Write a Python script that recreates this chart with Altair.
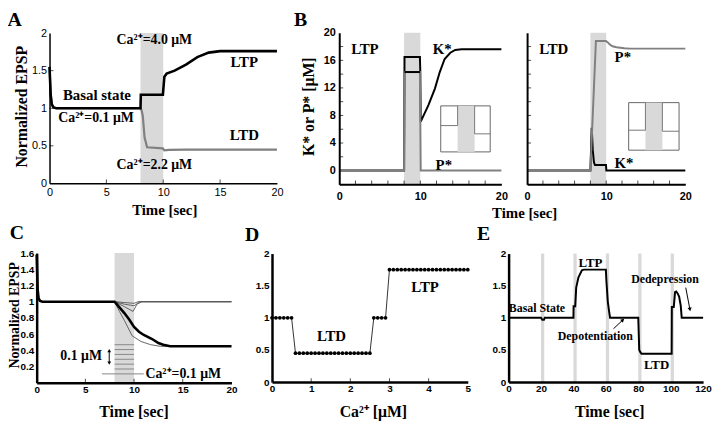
import altair as alt
import pandas as pd

# ---------------- data ----------------
# Panel A : normalized EPSP vs time
A_t_ltp = [0, 0.1, 0.2, 0.35, 0.6, 8.0, 8.03, 9.97, 10.1, 10.3, 11.0, 12.0, 13.0, 14.0, 15.0, 20.0]
A_v_ltp = [1.55, 1.18, 1.05, 1.01, 1.0, 1.0, 1.18, 1.18, 1.42, 1.46, 1.5, 1.58, 1.68, 1.74, 1.76, 1.76]
A_t_ltd = [0, 0.1, 0.2, 0.35, 0.6, 8.0, 8.1, 8.2, 8.36, 8.58, 9.96, 10.1, 10.5, 12.0, 20.0]
A_v_ltd = [1.55, 1.18, 1.05, 1.01, 1.0, 1.0, 0.97, 0.9, 0.61, 0.48, 0.465, 0.44, 0.445, 0.45, 0.45]
A_stim = [8, 10]
A_labels = ["Ca²⁺=4.0 μM", "Ca²⁺=0.1 μM", "Ca²⁺=2.2 μM"]
A_lab_x = [9.22, 4.09, 9.22]
A_lab_y = [1.91, 0.87, 0.24]
A_big = ["Basal state", "LTP", "LTD"]
A_big_x = [4.17, 17.13, 17.13]
A_big_y = [1.18, 1.61, 0.64]

# Panel B : K* and P* [uM]
BL_t_k = [0, 8.0, 8.05, 9.95, 10.0, 10.05, 11.0, 11.8, 12.4, 13.0, 13.7, 14.3, 15.1, 20]
BL_v_k = [0, 0, 16.5, 16.5, 14.3, 7.1, 9.5, 11.9, 14.3, 16.2, 17.1, 17.5, 17.6, 17.6]
BL_t_p = [0, 8.0, 8.05, 9.95, 10.05, 20]
BL_v_p = [0, 0, 14.3, 14.3, 0, 0]
BL_k_edge = [8.05, 9.95, 14.3]
BR_t_p = [0, 8.0, 8.7, 9.96, 10.2, 10.46, 10.8, 11.3, 12.3, 13.0, 20]
BR_v_p = [0, 0, 18.8, 18.8, 18.6, 18.3, 18.05, 17.9, 17.75, 17.7, 17.7]
BR_t_k = [0, 8.0, 8.17, 8.3, 8.45, 8.58, 9.97, 10.02, 20]
BR_v_k = [0, 0, 6.2, 3.0, 1.2, 0.8, 0.8, 0, 0]
B_stim = [8, 10]
# inset schematics (box, shaded band, left step, right step)
BL_box = [12.52, 18.62, 2.71, 9.39]
BL_band = [14.6, 16.7]
BL_left_x = [12.52, 14.6, 14.6]
BL_left_y = [6.53, 6.53, 9.39]
BL_right_x = [16.7, 16.7, 18.62]
BL_right_y = [9.39, 5.33, 5.33]
BR_box = [12.84, 19.21, 2.96, 9.86]
BR_band = [14.96, 17.1]
BR_left_x = [12.84, 14.96, 14.96]
BR_left_y = [5.86, 5.86, 9.86]
BR_right_x = [17.1, 17.1, 19.21]
BR_right_y = [9.86, 5.71, 5.71]
BL_lab = ["LTP", "K*", "P*"]
BL_lab_x = [3.17, 12.7, 12.9]
BL_lab_y = [17.65, 17.65, 0.86]
BR_lab = ["LTD", "P*", "K*"]
BR_lab_x = [3.37, 12.1, 12.25]
BR_lab_y = [17.65, 16.5, 1.15]

# Panel C : EPSP for several Ca levels
C_t_main = [0, 0.1, 0.2, 0.35, 0.6, 8.0, 8.5, 9.0, 9.5, 10.0, 10.5, 11.0, 11.85, 12.5, 13.0, 13.7, 20]
C_v_main = [1.58, 1.15, 1.04, 1.01, 1.0, 1.0, 0.93, 0.86, 0.78, 0.69, 0.63, 0.59, 0.54, 0.49, 0.47, 0.45, 0.45]
C_thin_t = [[8, 8.5, 9.0, 9.8, 10.7, 11.7, 12.7, 20],
            [8, 9, 9.9, 10.3, 10.8, 20],
            [8, 9, 10, 10.6, 20],
            [8, 9, 10, 10.4, 20]]
C_thin_v = [[1.0, 0.88, 0.77, 0.58, 0.51, 0.47, 0.45, 0.45],
            [1.0, 0.94, 0.88, 0.97, 1.0, 1.0],
            [1.0, 0.97, 0.95, 1.0, 1.0],
            [1.0, 0.99, 0.98, 1.0, 1.0]]
C_levels = [0.17, 0.23, 0.29, 0.35, 0.41, 0.47]
C_base = [6.7, 11.0, 0.11]
C_arrow = [7.45, 0.25, 0.39]

# Panel D : final EPSP vs Ca
D_ca = [0.0, 0.1, 0.2, 0.3, 0.4, 0.5, 0.6, 0.7, 0.8, 0.9, 1.0, 1.1, 1.2, 1.3, 1.4, 1.5, 1.6,
        1.7, 1.8, 1.9, 2.0, 2.1, 2.2, 2.3, 2.4, 2.5, 2.6, 2.7, 2.8, 2.9, 3.0, 3.1, 3.2, 3.3,
        3.4, 3.5, 3.6, 3.7, 3.8, 3.9, 4.0, 4.1, 4.2, 4.3, 4.4, 4.5, 4.6, 4.7, 4.8, 4.9, 5.0]
D_v = [1.0, 1.0, 1.0, 1.0, 1.0, 1.0,
       0.45, 0.45, 0.45, 0.45, 0.45, 0.45, 0.45, 0.45, 0.45, 0.45,
       0.45, 0.45, 0.45, 0.45, 0.45, 0.45, 0.45, 0.45, 0.45, 0.45,
       1.0, 1.0, 1.0, 1.0,
       1.75, 1.75, 1.75, 1.75, 1.75, 1.75, 1.75, 1.75, 1.75, 1.75, 1.75,
       1.75, 1.75, 1.75, 1.75, 1.75, 1.75, 1.75, 1.75, 1.75, 1.75]

# Panel E : protocol sequence
E_t = [0, 20.0, 20.8, 21.8, 22.3, 40.0, 40.1, 41.1, 41.7, 43.1, 45.2, 46.5, 60.0, 60.4, 61.2,
       62.0, 62.6, 80.0, 80.3, 80.6, 81.2, 82.0, 100.6, 100.7, 101.9, 102.7, 103.4, 104.3,
       105.2, 106.2, 106.8, 120]
E_v = [1.0, 1.0, 0.97, 0.97, 1.0, 1.0, 1.18, 1.18, 1.47, 1.63, 1.74, 1.75, 1.75, 1.55, 1.25,
       1.1, 1.0, 1.0, 0.75, 0.5, 0.47, 0.44, 0.44, 1.17, 1.17, 1.4, 1.41, 1.38, 1.33, 1.19,
       1.0, 1.0]
E_bar_start = [20, 40, 60, 80, 100]
E_bar_end = [22, 42, 62, 82, 102]
E_lab = ["Basal State", "Dedepression", "Depotentiation"]
E_lab_x = [17.5, 96.5, 53.5]
E_lab_y = [1.15, 1.6, 0.72]
E_lab2 = ["LTP", "LTD"]
E_lab2_x = [50.5, 91.3]
E_lab2_y = [1.86, 0.26]
E_arrow_dedep = [109.3, 1.47, 111.8, 1.14]
E_arrow_depot = [64.7, 0.83, 70.2, 0.96]

# ---------------- helpers ----------------
W, H = 712, 415
SERIF = "Liberation Serif"
SANS = "Liberation Sans"
SHADE = "#d9d9d9"
GREY = "#808080"


class Panel:
    def __init__(self, xdom, xr, ydom, yr, xa, ya):
        self.X = alt.Scale(domain=xdom, range=xr, nice=False, zero=False)
        self.Y = alt.Scale(domain=ydom, range=yr, nice=False, zero=False)
        self.XA = xa
        self.YA = ya

    def x(self):
        return alt.X("x:Q", scale=self.X, axis=self.XA)

    def y(self):
        return alt.Y("y:Q", scale=self.Y, axis=self.YA)


def xaxis(pos, values, dw, lsize, lbold, lpad, title=None, tx=0, ty=0, tsize=16):
    kw = dict(orient="bottom", offset=pos - H, values=values, format="~r", ticks=False,
              grid=False, domainColor="black", domainWidth=dw, labelFont=SANS,
              labelFontSize=lsize, labelFontWeight="bold" if lbold else "normal",
              labelColor="black", labelPadding=lpad, labelFlush=False, labelOverlap=False,
              zindex=1)
    if title:
        kw.update(title=title, titleFont=SERIF, titleFontSize=tsize, titleFontWeight="bold",
                  titleColor="black", titleX=tx, titleY=ty, titleAlign="center",
                  titleBaseline="middle", titleAngle=0)
    else:
        kw["title"] = None
    return alt.Axis(**kw)


def yaxis(pos, values, dw, lsize, lbold, lpad, title=None, tx=0, ty=0, labels=True, tsize=16):
    kw = dict(orient="left", offset=-pos, values=values, format="~r", ticks=False,
              grid=False, domainColor="black", domainWidth=dw, labels=labels, labelFont=SANS,
              labelFontSize=lsize, labelFontWeight="bold" if lbold else "normal",
              labelColor="black", labelPadding=lpad, labelFlush=False, labelOverlap=False,
              zindex=1)
    if title:
        kw.update(title=title, titleFont=SERIF, titleFontSize=tsize, titleFontWeight="bold",
                  titleColor="black", titleX=tx, titleY=ty, titleAlign="center",
                  titleBaseline="middle", titleAngle=270)
    else:
        kw["title"] = None
    return alt.Axis(**kw)


def line(xs, ys, p, color, width):
    d = pd.DataFrame({"x": xs, "y": ys})
    d["i"] = range(len(d))
    return alt.Chart(d).mark_line(color=color, strokeWidth=width).encode(
        x=p.x(), y=p.y(), order="i:Q")


def multiline(list_x, list_y, p, color, width):
    rows = []
    for s, (xs, ys) in enumerate(zip(list_x, list_y)):
        for i, (a, b) in enumerate(zip(xs, ys)):
            rows.append({"x": a, "y": b, "s": s, "i": i})
    d = pd.DataFrame(rows)
    return alt.Chart(d).mark_line(color=color, strokeWidth=width).encode(
        x=p.x(), y=p.y(), detail="s:N", order="i:Q")


def rects(x1, x2, y1, y2, p, fill, stroke=None, sw=1):
    d = pd.DataFrame({"x": x1, "x2": x2, "y": y1, "y2": y2})
    if stroke:
        m = alt.Chart(d).mark_rect(fill=fill, stroke=stroke, strokeWidth=sw)
    else:
        m = alt.Chart(d).mark_rect(fill=fill)
    return m.encode(x=p.x(), x2="x2:Q", y=p.y(), y2="y2:Q")


def texts(xs, ys, labels, p, size, align="center"):
    d = pd.DataFrame({"x": xs, "y": ys, "t": labels})
    return alt.Chart(d).mark_text(font=SERIF, fontSize=size, fontWeight="bold", align=align,
                                  baseline="middle", color="black").encode(
        x=p.x(), y=p.y(), text="t:N")


def xticks(vals, at, p, length=4):
    d = pd.DataFrame({"x": vals, "y": [at] * len(vals)})
    return alt.Chart(d).mark_tick(orient="vertical", size=length, thickness=1,
                                  yOffset=-length / 2, color="black").encode(x=p.x(), y=p.y())


def yticks(vals, at, p, length=4):
    d = pd.DataFrame({"x": [at] * len(vals), "y": vals})
    return alt.Chart(d).mark_tick(orient="horizontal", size=length, thickness=1,
                                  xOffset=length / 2, color="black").encode(x=p.x(), y=p.y())


def segs(x1, y1, x2, y2, p, color="black", width=1):
    d = pd.DataFrame({"x": x1, "y": y1, "x2": x2, "y2": y2})
    return alt.Chart(d).mark_rule(color=color, strokeWidth=width).encode(
        x=p.x(), y=p.y(), x2="x2:Q", y2="y2:Q")


def head(x, y, p, angle, size=22):
    d = pd.DataFrame({"x": [x], "y": [y]})
    return alt.Chart(d).mark_point(shape="triangle", filled=True, color="black", size=size,
                                   angle=angle, opacity=1).encode(x=p.x(), y=p.y())


# ---------------- panel A ----------------
pA = Panel([0, 20], [42, 272], [0, 2], [175, 23],
           xaxis(175, [0, 5, 10, 15, 20], 1.5, 11, False, 3, "Time [sec]", 158, 26, tsize=15),
           yaxis(42, [0, 0.5, 1, 1.5, 2], 1.5, 11, False, 3, "Normalized EPSP", -28.5, 97))
panelA = alt.layer(
    rects([A_stim[0]], [A_stim[1]], [0], [2], pA, SHADE),
    line(A_t_ltd, A_v_ltd, pA, GREY, 2.2),
    line(A_t_ltp, A_v_ltp, pA, "black", 2.6),
    xticks([5, 10, 15], 0, pA),
    yticks([0.5, 1, 1.5], 0, pA),
    texts(A_lab_x, A_lab_y, A_labels, pA, 14),
    texts(A_big_x, A_big_y, A_big, pA, 15),
    texts([-3.07], [2.17], ["A"], pA, 20),
)

# ---------------- panel B ----------------
b_even = [2, 4, 6, 8, 10, 12, 14, 16, 18]
pBL = Panel([0, 20], [335, 499], [-2, 20], [176, 22.7],
            xaxis(176, [0, 10, 20], 2, 11, True, 6),
            yaxis(335, [0, 4, 8, 12, 16, 20], 2, 11, True, 4, "K* or P* [μM]", -31.5, 97))
pBR = Panel([0, 20], [525, 685], [-2, 20], [176, 22.7],
            xaxis(176, [0, 10, 20], 2, 11, True, 6, "Time [sec]", 522, 29, tsize=15),
            yaxis(525, [0], 2, 11, True, 4, labels=False))


def inset(box, band, lx, ly, rx, ry, p):
    return [
        rects([box[0]], [box[1]], [box[2]], [box[3]], p, "white", "#666666", 1),
        rects([band[0]], [band[1]], [box[2]], [box[3]], p, SHADE),
        line(lx, ly, p, "#777777", 1),
        line(rx, ry, p, "#777777", 1),
    ]


panelBL = alt.layer(
    rects([B_stim[0]], [B_stim[1]], [-2], [20], pBL, SHADE),
    line(BL_t_k, BL_v_k, pBL, "black", 2),
    line(BL_t_p, BL_v_p, pBL, GREY, 2),
    segs([BL_k_edge[0]], [BL_k_edge[2]], [BL_k_edge[1]], [BL_k_edge[2]], pBL, "black", 2),
    *inset(BL_box, BL_band, BL_left_x, BL_left_y, BL_right_x, BL_right_y, pBL),
    xticks(b_even, -2, pBL),
    yticks(b_even, 0, pBL),
    texts(BL_lab_x, BL_lab_y, BL_lab, pBL, 15),
    texts([-4.76], [21.9], ["B"], pBL, 20),
)

panelBR = alt.layer(
    rects([B_stim[0]], [B_stim[1]], [-2], [20], pBR, SHADE),
    line(BR_t_k, BR_v_k, pBR, "black", 2),
    line(BR_t_p, BR_v_p, pBR, GREY, 2),
    *inset(BR_box, BR_band, BR_left_x, BR_left_y, BR_right_x, BR_right_y, pBR),
    xticks(b_even, -2, pBR),
    yticks(b_even, 0, pBR),
    texts(BR_lab_x, BR_lab_y, BR_lab, pBR, 15),
)

# ---------------- panel C ----------------
pC = Panel([0, 20], [29, 226], [0, 1.6], [376.7, 245.5],
           xaxis(376.7, [0, 5, 10, 15, 20], 2.5, 10, True, 2, "Time [sec]", 127, 29),
           yaxis(29, [0.2, 0.4, 0.6, 0.8, 1, 1.2, 1.4, 1.6], 2.5, 10, True, 3,
                 "Normalized EPSP", -22, 308, tsize=14))
panelC = alt.layer(
    rects([8], [10], [0], [1.6], pC, SHADE),
    segs([8] * len(C_levels), C_levels, [10] * len(C_levels), C_levels, pC, "#888888", 1),
    segs([C_base[0]], [C_base[2]], [C_base[1]], [C_base[2]], pC, "#888888", 1),
    segs([C_arrow[0]], [C_arrow[1]], [C_arrow[0]], [C_arrow[2]], pC, "black", 1),
    head(C_arrow[0], C_arrow[2], pC, 0, 14),
    head(C_arrow[0], C_arrow[1], pC, 180, 14),
    multiline(C_thin_t, C_thin_v, pC, "#555555", 0.9),
    line(C_t_main, C_v_main, pC, "black", 2.6),
    xticks([5, 10, 15], 0, pC),
    texts([4.57], [0.33], ["0.1 μM"], pC, 14),
    texts([11.17], [0.11], ["Ca²⁺=0.1 μM"], pC, 14, align="left"),
    texts([-2.03], [1.85], ["C"], pC, 20),
)

# ---------------- panel D ----------------
pD = Panel([0, 5], [267, 465], [0, 2], [376, 246],
           xaxis(376, [0, 1, 2, 3, 4, 5], 2.5, 10, True, 2, "Ca²⁺ [μM]", 369, 30),
           yaxis(267, [0, 0.5, 1, 1.5, 2], 2.5, 10, True, 3))
d_pts = pd.DataFrame({"x": D_ca, "y": D_v})
panelD = alt.layer(
    line(D_ca, D_v, pD, "#333333", 1),
    alt.Chart(d_pts).mark_circle(color="black", size=14, opacity=1).encode(x=pD.x(), y=pD.y()),
    xticks([1, 2, 3, 4], 0, pD),
    texts([1.52, 3.91], [0.71, 1.48], ["LTD", "LTP"], pD, 15),
    texts([-0.505], [2.29], ["D"], pD, 20),
)

# ---------------- panel E ----------------
pE = Panel([0, 120], [506.3, 703], [0, 2], [376, 246],
           xaxis(376, [0, 20, 40, 60, 80, 100, 120], 2.5, 10, True, 2, "Time [sec]", 608, 30),
           yaxis(506.3, [0, 0.5, 1, 1.5, 2], 2.5, 10, True, 3))
panelE = alt.layer(
    rects(E_bar_start, E_bar_end, [0] * 5, [2] * 5, pE, SHADE),
    line(E_t, E_v, pE, "black", 2),
    segs([E_arrow_dedep[0], E_arrow_depot[0]], [E_arrow_dedep[1], E_arrow_depot[1]],
         [E_arrow_dedep[2], E_arrow_depot[2]], [E_arrow_dedep[3], E_arrow_depot[3]], pE),
    head(E_arrow_dedep[2], E_arrow_dedep[3], pE, 170, 18),
    head(E_arrow_depot[2], E_arrow_depot[3], pE, 47, 18),
    texts(E_lab_x, E_lab_y, E_lab, pE, 12),
    texts(E_lab2_x, E_lab2_y, E_lab2, pE, 13),
    texts([-15.4], [2.31], ["E"], pE, 20),
)

chart = alt.layer(panelA, panelBL, panelBR, panelC, panelD, panelE).resolve_scale(
    x="independent", y="independent"
).properties(width=W, height=H, autosize="none", padding=0).configure_view(stroke=None)

chart.save("out.html", embed_options={"renderer": "svg", "actions": False})
